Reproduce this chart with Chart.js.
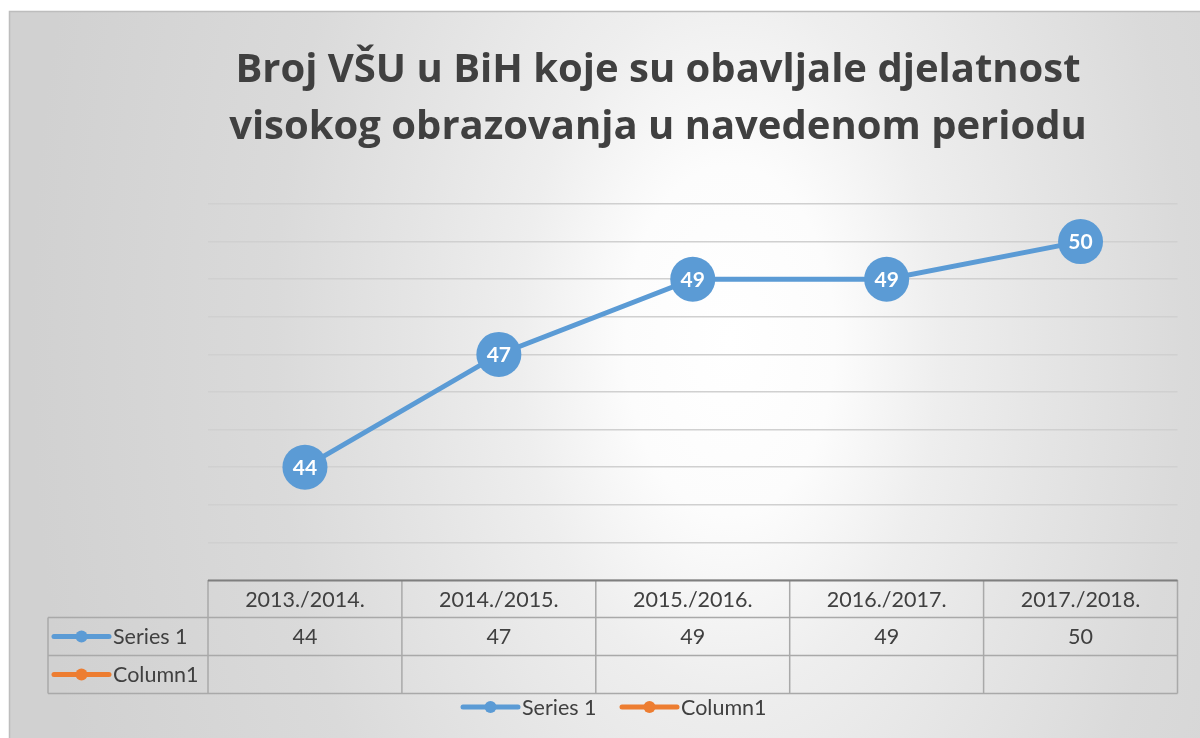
<!DOCTYPE html>
<html><head><meta charset="utf-8">
<script src="https://cdn.jsdelivr.net/npm/chart.js@4.4.1/dist/chart.umd.min.js"></script>
<style>html,body{margin:0;padding:0;background:#fff;}#wrap{width:1200px;height:738px;}</style>
</head><body><div id="wrap"><canvas id="c" width="1200" height="738"></canvas></div>
<script>
const titleLines = ['Broj VŠU u BiH koje su obavljale djelatnost', 'visokog obrazovanja u navedenom periodu'];
const categories = ['2013./2014.', '2014./2015.', '2015./2016.', '2016./2017.', '2017./2018.'];
const series1Name = 'Series 1';
const series1 = [44, 47, 49, 49, 50];
const column1Name = 'Column1';
const column1 = [null, null, null, null, null];
const yMin = 41, yMax = 51, yStep = 1;

const BLUE = '#5b9bd5', ORANGE = '#ed7d31', TXT = '#404040';
const FONT = 'Lato, "Open Sans", sans-serif';
const TFONT = '"Open Sans", Lato, sans-serif';

function legendMarker(ctx, x, y, color) {
  ctx.save();
  ctx.strokeStyle = color; ctx.lineWidth = 5; ctx.lineCap = 'round';
  ctx.beginPath(); ctx.moveTo(x, y); ctx.lineTo(x + 55, y); ctx.stroke();
  ctx.fillStyle = color; ctx.beginPath(); ctx.arc(x + 27.5, y, 6, 0, Math.PI * 2); ctx.fill();
  ctx.restore();
}

const decor = {
  id: 'decor',
  beforeDraw(chart) {
    const ctx = chart.ctx;
    ctx.save();
    ctx.fillStyle = '#fff'; ctx.fillRect(0, 0, 1200, 738);
    ctx.save();
    ctx.beginPath(); ctx.rect(9, 11, 1191, 727); ctx.clip();
    const cx = 730, cy = 340, sy = 1 / 0.6;
    ctx.translate(cx, cy); ctx.scale(1, sy);
    const g = ctx.createRadialGradient(0, 0, 0, 0, 0, 700);
    g.addColorStop(0, '#ffffff');
    g.addColorStop(0.15, '#fcfcfc');
    g.addColorStop(0.3, '#eeeeee');
    g.addColorStop(0.45, '#e5e5e5');
    g.addColorStop(0.65, '#dadada');
    g.addColorStop(1, '#d1d1d1');
    ctx.fillStyle = g; ctx.fillRect(-2000, -2000, 4000, 4000);
    ctx.restore();
    ctx.strokeStyle = '#bdbdbd'; ctx.lineWidth = 1.5;
    ctx.beginPath(); ctx.moveTo(9.5, 738); ctx.lineTo(9.5, 11.5); ctx.lineTo(1200, 11.5); ctx.stroke();
    // title
    ctx.fillStyle = TXT; ctx.textAlign = 'center'; ctx.textBaseline = 'alphabetic';
    ctx.font = 'bold 40px ' + TFONT;
    ctx.fillText(titleLines[0], 658, 82);
    ctx.fillText(titleLines[1], 658, 139);
    ctx.restore();
  },
  afterDraw(chart) {
    const ctx = chart.ctx, ca = chart.chartArea, xs = chart.scales.x;
    const n = categories.length;
    const colW = (ca.right - ca.left) / n;
    const top = ca.bottom, r1 = top + 37.5, r2 = r1 + 38, r3 = r2 + 38;
    const labL = 48;
    ctx.save();
    // data labels in points
    const meta = chart.getDatasetMeta(0);
    ctx.font = 'bold 21px ' + FONT; ctx.fillStyle = '#fff';
    ctx.textAlign = 'center'; ctx.textBaseline = 'middle';
    meta.data.forEach((p, i) => { if (series1[i] != null) ctx.fillText(String(series1[i]), p.x, p.y + 1); });
    // table lines
    ctx.strokeStyle = '#a9a9a9'; ctx.lineWidth = 1.5;
    ctx.beginPath();
    ctx.moveTo(ca.left, r1); ctx.lineTo(ca.right, r1);
    ctx.moveTo(labL, r1); ctx.lineTo(ca.left, r1);
    ctx.moveTo(labL, r2); ctx.lineTo(ca.right, r2);
    ctx.moveTo(labL, r3); ctx.lineTo(ca.right, r3);
    ctx.moveTo(labL, r1); ctx.lineTo(labL, r3);
    for (let i = 0; i <= n; i++) {
      const x = ca.left + i * colW;
      ctx.moveTo(x, top); ctx.lineTo(x, r3);
    }
    ctx.stroke();
    ctx.strokeStyle = '#7f7f7f'; ctx.lineWidth = 2;
    ctx.beginPath(); ctx.moveTo(ca.left, top + 0.5); ctx.lineTo(ca.right, top + 0.5); ctx.stroke();
    // table text
    ctx.fillStyle = TXT; ctx.font = '21.5px ' + FONT; ctx.textBaseline = 'middle'; ctx.textAlign = 'center';
    categories.forEach((c, i) => {
      const x = xs.getPixelForValue(i);
      ctx.fillText(c, x, (top + r1) / 2 + 1);
      if (series1[i] != null) ctx.fillText(String(series1[i]), x, (r1 + r2) / 2 + 1);
      if (column1[i] != null) ctx.fillText(String(column1[i]), x, (r2 + r3) / 2 + 1);
    });
    ctx.textAlign = 'left';
    legendMarker(ctx, 54, (r1 + r2) / 2, BLUE);
    ctx.fillStyle = TXT; ctx.fillText(series1Name, 113, (r1 + r2) / 2 + 1);
    legendMarker(ctx, 54, (r2 + r3) / 2, ORANGE);
    ctx.fillStyle = TXT; ctx.fillText(column1Name, 113, (r2 + r3) / 2 + 1);
    // bottom legend
    const ly = 707;
    legendMarker(ctx, 463, ly, BLUE);
    ctx.fillStyle = TXT; ctx.fillText(series1Name, 522, ly + 1);
    legendMarker(ctx, 622, ly, ORANGE);
    ctx.fillStyle = TXT; ctx.fillText(column1Name, 681, ly + 1);
    ctx.restore();
  }
};

new Chart(document.getElementById('c'), {
  type: 'line',
  data: {
    labels: categories,
    datasets: [
      { label: series1Name, data: series1, borderColor: BLUE, backgroundColor: BLUE, borderWidth: 5,
        pointRadius: 22.5, pointHoverRadius: 22.5, pointBackgroundColor: BLUE, pointBorderWidth: 0, tension: 0 },
      { label: column1Name, data: column1, borderColor: ORANGE, backgroundColor: ORANGE, borderWidth: 5,
        pointRadius: 6, pointBackgroundColor: ORANGE, tension: 0 }
    ]
  },
  options: {
    responsive: false, animation: false, devicePixelRatio: 1,
    layout: { padding: { left: 208, right: 15, top: 204, bottom: 158 } },
    plugins: { legend: { display: false }, title: { display: false }, tooltip: { enabled: false } },
    scales: {
      x: { display: false, offset: true },
      y: {
        min: yMin, max: yMax,
        ticks: { display: false, stepSize: yStep },
        grid: { color: '#d0d0d0', lineWidth: 1.5, drawTicks: false },
        border: { display: false },
        afterFit(s) { s.width = 0; }
      }
    }
  },
  plugins: [decor]
});
</script>
</body></html>
